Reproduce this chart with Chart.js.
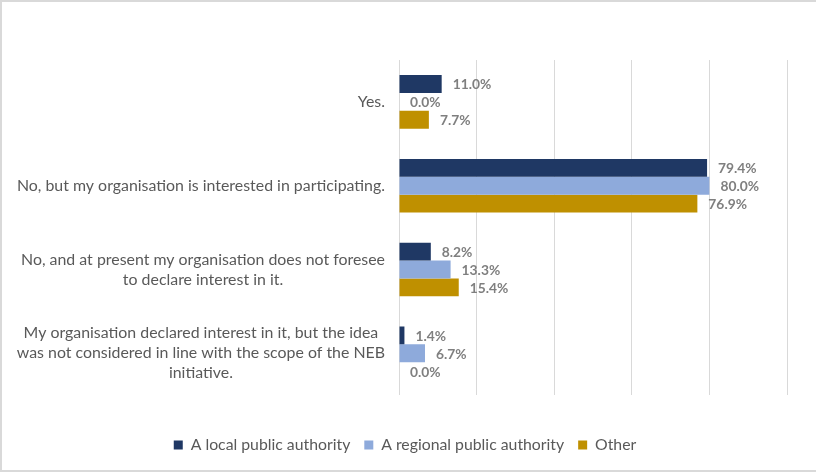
<!DOCTYPE html>
<html lang="en">
<head>
    <meta charset="UTF-8">
    <title>NEB participation by organisation type</title>
    <script src="https://cdn.jsdelivr.net/npm/chart.js"></script>
    <style>
        body {
            margin: 0;
            background: #ffffff;
        }
        #wrap {
            width: 816px;
            height: 473px;
            position: relative;
        }
    </style>
</head>
<body>
    <div id="wrap">
        <canvas id="nebChart" width="816" height="473"></canvas>
    </div>

    <script>
        // Answers (multi-line labels are arrays of lines)
        const answers = [
            ['Yes.'],
            ['No, but my organisation is interested in participating.'],
            ['No, and at present my organisation does not foresee', 'to declare interest in it.'],
            ['My organisation declared interest in it, but the idea', 'was not considered in line with the scope of the NEB', 'initiative.']
        ];

        const seriesNames = ['A local public authority', 'A regional public authority', 'Other'];

        // Share of respondents (%)
        const localAuthority = [11.0, 79.4, 8.2, 1.4];
        const regionalAuthority = [0.0, 80.0, 13.3, 6.7];
        const otherOrg = [7.7, 76.9, 15.4, 0.0];

        const xTicks = [0, 20, 40, 60, 80, 100];

        const FONT = 'Lato, "Liberation Sans", sans-serif';

        // Category names: block right-aligned against the axis, lines centred inside the block
        const answerLabels = {
            id: 'answerLabels',
            afterDraw(chart) {
                const ctx = chart.ctx;
                const yScale = chart.scales.y;
                const rightEdge = chart.chartArea.left - 14;
                const lineH = 20;
                ctx.save();
                ctx.font = '15.9px ' + FONT;
                ctx.fillStyle = '#595959';
                ctx.textAlign = 'center';
                ctx.textBaseline = 'middle';
                answers.forEach((lines, i) => {
                    const widest = Math.max(...lines.map(l => ctx.measureText(l).width));
                    const cx = rightEdge - widest / 2;
                    const cy = yScale.getPixelForValue(i);
                    const top = cy - (lines.length - 1) * lineH / 2;
                    lines.forEach((line, j) => ctx.fillText(line, cx, top + j * lineH));
                });
                ctx.restore();
            }
        };

        // Percent labels just past the end of each bar
        const valueLabels = {
            id: 'valueLabels',
            afterDatasetsDraw(chart) {
                const ctx = chart.ctx;
                ctx.save();
                ctx.font = 'bold 13.8px ' + FONT;
                ctx.fillStyle = '#7f7f7f';
                ctx.textAlign = 'left';
                ctx.textBaseline = 'middle';
                chart.data.datasets.forEach((ds, di) => {
                    chart.getDatasetMeta(di).data.forEach((bar, i) => {
                        ctx.fillText(ds.data[i].toFixed(1) + '%', bar.x + 11, bar.y + 1);
                    });
                });
                ctx.restore();
            }
        };

        // Thin grey frame (left, top, bottom)
        const frame = {
            id: 'frame',
            beforeDraw(chart) {
                const ctx = chart.ctx;
                ctx.save();
                ctx.strokeStyle = '#d9d9d9';
                ctx.lineWidth = 2;
                ctx.beginPath();
                ctx.moveTo(chart.width, 1);
                ctx.lineTo(1, 1);
                ctx.lineTo(1, 471);
                ctx.lineTo(chart.width, 471);
                ctx.stroke();
                ctx.restore();
            }
        };

        const ctx = document.getElementById('nebChart').getContext('2d');
        new Chart(ctx, {
            type: 'bar',
            data: {
                labels: answers.map(a => a.join(' ')),
                datasets: [
                    { label: seriesNames[0], data: localAuthority, backgroundColor: '#1f3864' },
                    { label: seriesNames[1], data: regionalAuthority, backgroundColor: '#8eaadb' },
                    { label: seriesNames[2], data: otherOrg, backgroundColor: '#bf9000' }
                ]
            },
            options: {
                indexAxis: 'y',
                responsive: false,
                animation: false,
                layout: {
                    padding: { top: 60, right: 29, left: 23, bottom: 10 }
                },
                datasets: {
                    bar: {
                        categoryPercentage: 0.64,
                        barPercentage: 1.0
                    }
                },
                scales: {
                    x: {
                        min: 0,
                        max: 100,
                        afterBuildTicks(scale) {
                            scale.ticks = xTicks.map(v => ({ value: v }));
                        },
                        afterFit(scale) {
                            scale.height = 28;
                        },
                        ticks: { display: false },
                        grid: { color: '#d9d9d9', lineWidth: 1, drawTicks: false },
                        border: { display: false }
                    },
                    y: {
                        afterFit(scale) {
                            scale.width = 376;
                        },
                        ticks: { display: false },
                        grid: { display: false, drawTicks: false },
                        border: { display: false }
                    }
                },
                plugins: {
                    legend: {
                        position: 'bottom',
                        labels: {
                            boxWidth: 9,
                            boxHeight: 9,
                            padding: 14,
                            color: '#595959',
                            font: { family: FONT, size: 15.8 }
                        }
                    },
                    tooltip: { enabled: false }
                }
            },
            plugins: [frame, answerLabels, valueLabels]
        });
    </script>
</body>
</html>
